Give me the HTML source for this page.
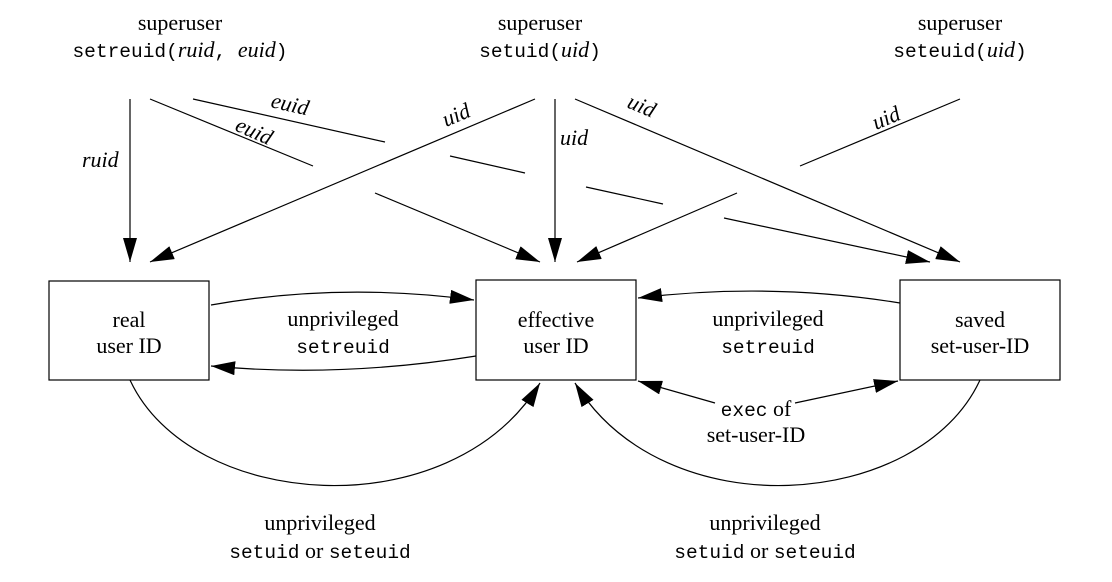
<!DOCTYPE html>
<html><head><style>
body{margin:0;background:#fff}
svg text, svg tspan{font-family:"Liberation Serif","Times New Roman",serif;font-size:22px;fill:#000}
svg .m{font-family:"Liberation Mono","Courier New",monospace;font-size:19.5px}
</style></head><body>
<svg width="1112" height="577" viewBox="0 0 1112 577" xmlns="http://www.w3.org/2000/svg" font-family="Liberation Serif, serif">
<defs>
<marker id="b" markerWidth="24" markerHeight="14" refX="24" refY="7" orient="auto" markerUnits="userSpaceOnUse"><path d="M0,0 L24,7 L0,14 z" fill="#000"/></marker></defs>
<g text-anchor="middle">
<text x="180" y="30">superuser</text>
<text x="180" y="57"><tspan class="m">setreuid(</tspan><tspan font-style="italic">ruid</tspan><tspan class="m">, </tspan><tspan font-style="italic">euid</tspan><tspan class="m">)</tspan></text>
<text x="540" y="30">superuser</text>
<text x="540" y="57"><tspan class="m">setuid(</tspan><tspan font-style="italic">uid</tspan><tspan class="m">)</tspan></text>
<text x="960" y="30">superuser</text>
<text x="960" y="57"><tspan class="m">seteuid(</tspan><tspan font-style="italic">uid</tspan><tspan class="m">)</tspan></text>
</g>
<g stroke="#000" stroke-width="1.2" fill="none">
<line x1="130" y1="99" x2="130" y2="262" marker-end="url(#b)"/>
<line x1="150" y1="99" x2="313" y2="166"/><line x1="375" y1="193" x2="540" y2="262" marker-end="url(#b)"/>
<line x1="193" y1="99" x2="385" y2="142"/><line x1="450" y1="156" x2="525" y2="173"/><line x1="586" y1="187" x2="663" y2="204"/><line x1="724" y1="218" x2="930" y2="262" marker-end="url(#b)"/>
<line x1="535" y1="99" x2="150" y2="262" marker-end="url(#b)"/>
<line x1="555" y1="99" x2="555" y2="262" marker-end="url(#b)"/>
<line x1="575" y1="99" x2="960" y2="262" marker-end="url(#b)"/>
<line x1="960" y1="99" x2="800" y2="166"/><line x1="737" y1="193" x2="577" y2="262" marker-end="url(#b)"/>
<rect x="49" y="281" width="160" height="99"/>
<rect x="476" y="280" width="160" height="100"/>
<rect x="900" y="280" width="160" height="100"/>
<path d="M211,305 Q340,282 474,300" marker-end="url(#b)"/>
<path d="M476,356 Q340,378 211,366" marker-end="url(#b)"/>
<path d="M900,303 Q770,282 638,298" marker-end="url(#b)"/>
<line x1="715" y1="403" x2="638" y2="381" marker-end="url(#b)"/>
<line x1="795" y1="403" x2="898" y2="381" marker-end="url(#b)"/>
<path d="M130,380 C190,510 450,530 540,383" marker-end="url(#b)"/>
<path d="M980,380 C920,510 665,530 575,383" marker-end="url(#b)"/>
</g>
<g font-style="italic">
<text x="82" y="167" font-style="italic">ruid</text>
<text x="0" y="0" font-style="italic" transform="translate(234,130) rotate(24)">euid</text>
<text x="0" y="0" font-style="italic" transform="translate(270,107) rotate(13)">euid</text>
<text x="0" y="0" font-style="italic" transform="translate(446,127) rotate(-23)">uid</text>
<text x="560" y="145" font-style="italic">uid</text>
<text x="0" y="0" font-style="italic" transform="translate(626,107) rotate(23)">uid</text>
<text x="0" y="0" font-style="italic" transform="translate(876,130) rotate(-23)">uid</text>
</g>
<g text-anchor="middle">
<text x="129" y="327">real</text><text x="129" y="353">user ID</text>
<text x="556" y="327">effective</text><text x="556" y="353">user ID</text>
<text x="980" y="327">saved</text><text x="980" y="353">set-user-ID</text>
<text x="343" y="326">unprivileged</text><text x="343" y="353" class="m">setreuid</text>
<text x="768" y="326">unprivileged</text><text x="768" y="353" class="m">setreuid</text>
<text x="756" y="416"><tspan class="m">exec</tspan> of</text><text x="756" y="442">set-user-ID</text>
<text x="320" y="530">unprivileged</text>
<text x="320" y="558"><tspan class="m">setuid</tspan> or <tspan class="m">seteuid</tspan></text>
<text x="765" y="530">unprivileged</text>
<text x="765" y="558"><tspan class="m">setuid</tspan> or <tspan class="m">seteuid</tspan></text>
</g>
</svg>
</body></html>
